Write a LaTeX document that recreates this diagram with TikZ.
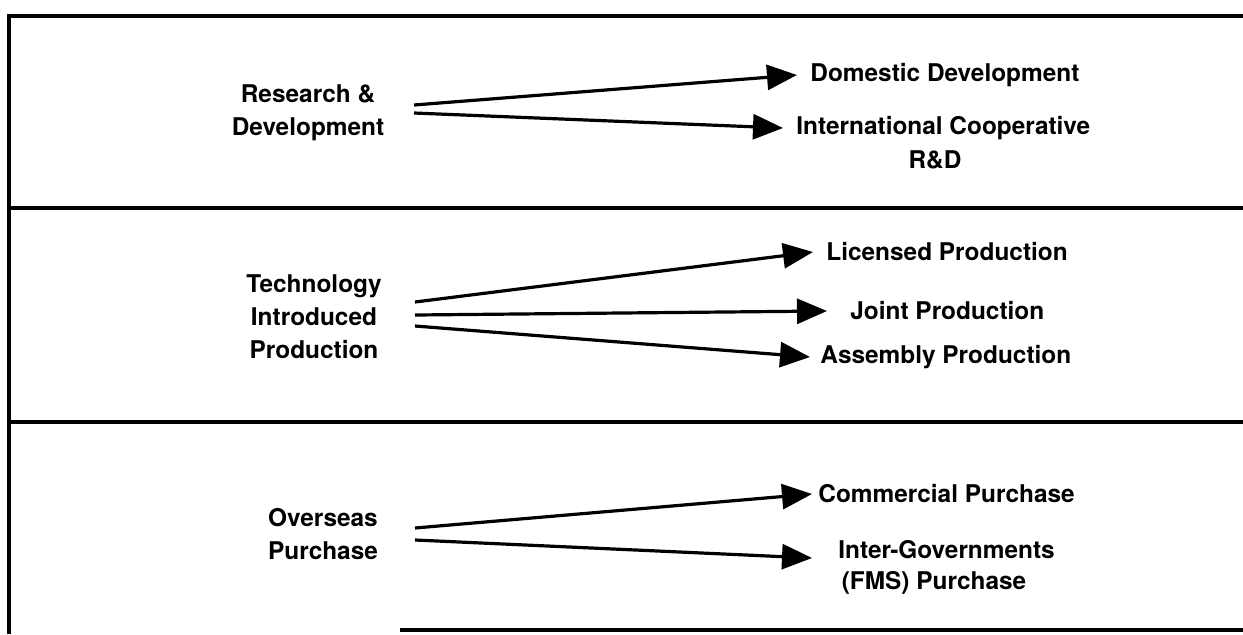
\documentclass[tikz,border=0pt]{standalone}
\usepackage{fontspec}
\setmainfont{TeX Gyre Heros}
\usetikzlibrary{arrows.meta}
\begin{document}
\begin{tikzpicture}[x=0.5pt,y=-0.5pt,
  rule/.style={line width=1.6pt},
  txt/.style={font=\bfseries\fontsize{12.2}{16.5}\selectfont, inner sep=0pt},
  src/.style={txt, align=center},
  tgt/.style={txt, anchor=west},
  flow/.style={line width=1.6pt, -{Triangle[length=15pt,width=12.5pt]}}
]
\useasboundingbox (0,0) rectangle (1243,634);

% frame and band separators
\draw[rule] (1243,16) -- (9,16) -- (9,634);
\draw[rule] (9,208) -- (1243,208);
\draw[rule] (9,422) -- (1243,422);
\draw[rule] (400,630) -- (1243,630);

% band 1: research and development
\node[src] (rd) at (308,113) {Research \&\\Development};
\node[tgt] (dd) at (810,75) {Domestic Development};
\node[tgt] (ic) at (796,128) {International Cooperative};
\node[txt] (icb) at (935,160) {R\&D};
\coordinate (rdA) at (414,105);
\coordinate (rdB) at (414,113);
\draw[flow] (rdA) -- ([xshift=-6.5pt]dd.west);
\draw[flow] (rdB) -- ([xshift=-6.5pt]ic.west);

% band 2: technology introduced production
\node[src] (tp) at (314,317) {Technology\\Introduced\\Production};
\node[tgt] (lp) at (826,252) {Licensed Production};
\node[tgt] (jp) at (850,311) {Joint Production};
\node[tgt] (ap) at (820,357) {Assembly Production};
\coordinate (tpA) at (415,302);
\coordinate (tpB) at (415,315);
\coordinate (tpC) at (415,326);
\draw[flow] (tpA) -- ([xshift=-6.5pt]lp.west);
\draw[flow] (tpB) -- ([xshift=-11.5pt]jp.west);
\draw[flow] (tpC) -- ([xshift=-5pt]ap.west);

% band 3: overseas purchase
\node[src] (op) at (323,534) {Overseas\\Purchase};
\node[tgt] (cp) at (818,494) {Commercial Purchase};
\node[tgt] (ig) at (838,550) {Inter-Governments};
\node[txt] (igb) at (934,583) {(FMS) Purchase};
\coordinate (opA) at (415,528);
\coordinate (opB) at (415,540);
\draw[flow] (opA) -- ([xshift=-3pt]cp.west);
\draw[flow] (opB) -- ([shift={(-13pt,-4pt)}]ig.west);
\end{tikzpicture}
\end{document}
